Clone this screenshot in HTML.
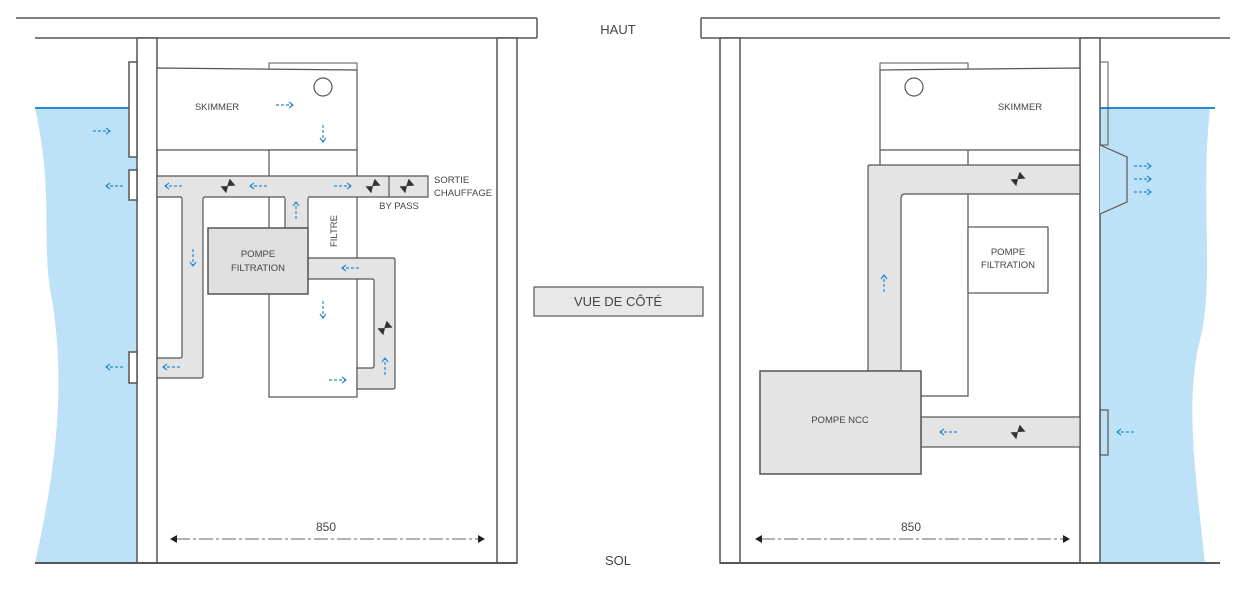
<!DOCTYPE html>
<html><head><meta charset="utf-8"><style>
html,body{margin:0;padding:0;background:#fff;}
svg{display:block;}
text{font-family:"Liberation Sans",sans-serif;fill:#444;}
</style></head><body>
<svg width="1233" height="589" viewBox="0 0 1233 589" xmlns="http://www.w3.org/2000/svg">
<defs>
<g id="valve"><path d="M-6,-4.5 L6,4.5 L6,-4.5 L-6,4.5 Z" fill="#333" transform="rotate(-40)"/><line x1="0" y1="0" x2="2" y2="-6" stroke="#333" stroke-width="1.5"/></g>
<g id="ar" fill="none" stroke="#2a8ad0" stroke-width="1.2"><path d="M-9,0 H7" stroke-dasharray="3,2"/><path d="M4,-3 L8,0 L4,3"/></g>
</defs>
<g stroke="#555" stroke-width="1.5" fill="none">
<!-- LEFT -->
<path d="M137,108 H35 C55,200 40,240 52,300 C65,380 58,460 35,563 H137 Z" fill="#bde2f7" stroke="none"/>
<line x1="35" y1="108" x2="137" y2="108" stroke="#2a8ad0" stroke-width="2"/>
<line x1="16" y1="18" x2="537" y2="18"/>
<line x1="35" y1="38" x2="537" y2="38"/>
<line x1="537" y1="18" x2="537" y2="38"/>
<rect x="137" y="38" width="20" height="525" fill="#fff"/>
<rect x="497" y="38" width="20" height="525" fill="#fff"/>
<line x1="35" y1="563" x2="517" y2="563" stroke-width="2"/>
<rect x="129" y="62" width="8" height="95" fill="#fff"/>
<rect x="129" y="170" width="8" height="30" fill="#fff"/>
<rect x="129" y="352" width="8" height="31" fill="#fff"/>
<rect x="269" y="63" width="88" height="7" fill="#fff" stroke-width="1"/>
<path d="M157,68 L357,70 V150 H157 Z" fill="#fff" stroke-width="1.2"/>
<circle cx="323" cy="87" r="9" stroke-width="1.2"/>
<rect x="269" y="150" width="88" height="247" fill="#fff" stroke-width="1.2"/>
<path d="M157,176 H428 V197 H205 Q203,197 203,199 V376 Q203,378 201,378 H157 V358 H180 Q182,358 182,356 V199 Q182,197 180,197 H157 Z" fill="#e4e4e4" stroke-width="1.2"/>
<line x1="389" y1="176" x2="389" y2="197" stroke-width="1.2"/>
<path d="M285,197 V228 H308 V197" fill="#e4e4e4" stroke-width="1.2"/>
<line x1="285" y1="197" x2="308" y2="197" stroke="#e4e4e4" stroke-width="2"/>
<path d="M308,258 H393 Q395,258 395,260 V387 Q395,389 393,389 H357 V368 H372 Q374,368 374,366 V281 Q374,279 372,279 H308 Z" fill="#e4e4e4" stroke-width="1.2"/>
<rect x="208" y="228" width="100" height="66" fill="#e0e0e0" stroke-width="1.5"/>
<!-- RIGHT -->
<path d="M1100,108 H1210 C1200,200 1215,280 1200,340 C1185,400 1195,470 1205,563 H1100 Z" fill="#bde2f7" stroke="none"/>
<line x1="1100" y1="108" x2="1215" y2="108" stroke="#2a8ad0" stroke-width="2"/>
<line x1="701" y1="18" x2="1220" y2="18"/>
<line x1="701" y1="38" x2="1230" y2="38"/>
<line x1="701" y1="18" x2="701" y2="38"/>
<rect x="720" y="38" width="20" height="525" fill="#fff"/>
<rect x="1080" y="38" width="20" height="525" fill="#fff"/>
<line x1="720" y1="563" x2="1220" y2="563" stroke-width="2"/>
<rect x="1100" y="62" width="8" height="83" fill="none" stroke-width="1"/>
<path d="M1100,145 L1127,157 V202 L1100,214" fill="#bde2f7" stroke-width="1.2"/>
<rect x="1100" y="410" width="8" height="45" fill="none" stroke-width="1.2"/>
<rect x="880" y="63" width="88" height="7" fill="#fff" stroke-width="1"/>
<path d="M880,70 L1080,68 V150 H880 Z" fill="#fff" stroke-width="1.2"/>
<circle cx="914" cy="87" r="9" stroke-width="1.2"/>
<path d="M880,150 V165 M968,150 V396 H920" stroke-width="1.2"/>
<path d="M1080,165 H870 Q868,165 868,167 V371 H901 V198 Q901,194 905,194 H1080 Z" fill="#e4e4e4" stroke-width="1.2"/>
<rect x="968" y="227" width="80" height="66" fill="#fff" stroke-width="1.2"/>
<rect x="921" y="417" width="159" height="30" fill="#e4e4e4" stroke-width="1.2"/>
<rect x="760" y="371" width="161" height="103" fill="#e4e4e4" stroke-width="1.5"/>
<!-- middle -->
<rect x="534" y="287" width="169" height="29" fill="#e8e8e8" stroke-width="1.2"/>
<!-- dims -->
<line x1="176" y1="539" x2="478" y2="539" stroke="#999" stroke-width="1.5" stroke-dasharray="14,3,3,3"/>
<line x1="761" y1="539" x2="1063" y2="539" stroke="#999" stroke-width="1.5" stroke-dasharray="14,3,3,3"/>
</g>
<g fill="#222">
<path d="M170,539 L177,535 V543 Z"/><path d="M485,539 L478,535 V543 Z"/>
<path d="M755,539 L762,535 V543 Z"/><path d="M1070,539 L1063,535 V543 Z"/>
</g>
<!-- valves -->
<use href="#valve" x="228" y="186"/><use href="#valve" x="373" y="186"/><use href="#valve" x="407" y="186"/>
<use href="#valve" x="385" y="328"/><use href="#valve" x="1018" y="179"/><use href="#valve" x="1018" y="432"/>
<!-- arrows -->
<use href="#ar" x="102" y="131"/>
<use href="#ar" x="285" y="105"/>
<use href="#ar" transform="translate(323,134) rotate(90)"/>
<use href="#ar" transform="translate(173,186) rotate(180)"/>
<use href="#ar" transform="translate(258,186) rotate(180)"/>
<use href="#ar" x="343" y="186"/>
<use href="#ar" transform="translate(114,186) rotate(180)"/>
<use href="#ar" transform="translate(296,210) rotate(-90)"/>
<use href="#ar" transform="translate(193,258) rotate(90)"/>
<use href="#ar" transform="translate(350,268) rotate(180)"/>
<use href="#ar" transform="translate(323,310) rotate(90)"/>
<use href="#ar" transform="translate(385,366) rotate(-90)"/>
<use href="#ar" x="338" y="380"/>
<use href="#ar" transform="translate(171,367) rotate(180)"/>
<use href="#ar" transform="translate(114,367) rotate(180)"/>
<use href="#ar" x="1143" y="166"/><use href="#ar" x="1143" y="179"/><use href="#ar" x="1143" y="192"/>
<use href="#ar" transform="translate(884,283) rotate(-90)"/>
<use href="#ar" transform="translate(948,432) rotate(180)"/>
<use href="#ar" transform="translate(1125,432) rotate(180)"/>
<!-- text -->
<g font-size="9.5" text-anchor="middle">
<text x="217" y="110">SKIMMER</text>
<text x="258" y="257">POMPE</text><text x="258" y="271">FILTRATION</text>
<text x="1020" y="110">SKIMMER</text>
<text x="1008" y="255">POMPE</text><text x="1008" y="268">FILTRATION</text>
<text x="840" y="423">POMPE NCC</text>
<text x="399" y="209">BY PASS</text>
</g>
<g font-size="9.5"><text x="434" y="183">SORTIE</text><text x="434" y="196">CHAUFFAGE</text></g>
<text font-size="9.5" text-anchor="middle" transform="translate(337,231) rotate(-90)">FILTRE</text>
<g font-size="13" text-anchor="middle">
<text x="618" y="34" fill="#222">HAUT</text>
<text x="618" y="565" fill="#222">SOL</text>
<text x="618" y="306" fill="#222">VUE DE CÔTÉ</text>
<text x="326" y="531" font-size="12">850</text>
<text x="911" y="531" font-size="12">850</text>
</g>
</svg>
</body></html>
